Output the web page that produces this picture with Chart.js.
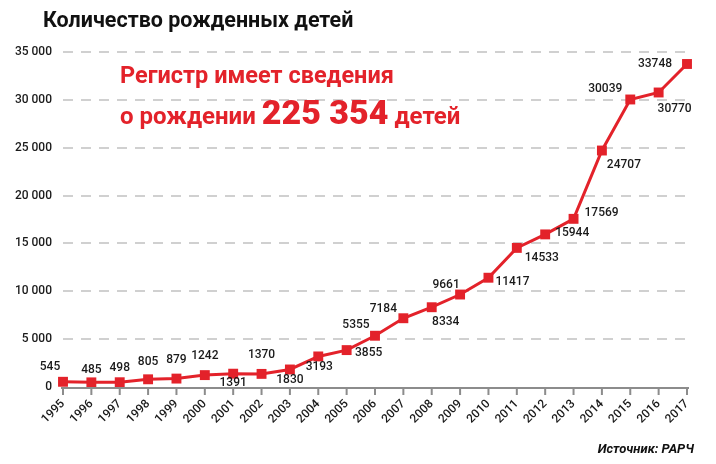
<!DOCTYPE html>
<html lang="ru">
<head>
<meta charset="utf-8">
<script src="https://cdn.jsdelivr.net/npm/chart.js@4.4.1/dist/chart.umd.min.js"></script>
<style>
  html, body { margin: 0; padding: 0; background: #fff; }
  #wrap { position: relative; width: 716px; height: 464px; font-family: Roboto, "DejaVu Sans", sans-serif; }
  #births { position: absolute; left: 0; top: 0; }
  .title { position: absolute; left: 43px; top: 7px; font-size: 21.5px; font-weight: 700; color: #111; white-space: nowrap; }
  .note { position: absolute; left: 120px; color: #e3222a; font-weight: 700; white-space: nowrap; }
  .note1 { top: 61px; font-size: 23.5px; }
  .note2 { top: 92px; font-size: 24px; }
  .note2 b { font-size: 34px; }
  .source { position: absolute; right: 22px; top: 441px; font-size: 13px; font-weight: 700; font-style: italic; color: #111; }
</style>
</head>
<body>
<div id="wrap">
  <canvas id="births" width="716" height="464"></canvas>
  <div class="title">Количество рожденных детей</div>
  <div class="note note1">Регистр имеет сведения</div>
  <div class="note note2">о рождении <b>225 354</b> детей</div>
  <div class="source">Источник: РАРЧ</div>
</div>
<script>
// данные
const years = ['1995', '1996', '1997', '1998', '1999', '2000', '2001', '2002', '2003', '2004', '2005', '2006',
               '2007', '2008', '2009', '2010', '2011', '2012', '2013', '2014', '2015', '2016', '2017'];
const births = [545, 485, 498, 805, 879, 1242, 1391, 1370, 1830, 3193, 3855, 5355,
                7184, 8334, 9661, 11417, 14533, 15944, 17569, 24707, 30039, 30770, 33748];
const yTicks = [0, 5000, 10000, 15000, 20000, 25000, 30000, 35000];

// смещения подписей относительно маркеров (dx, dy)
const labelOffsets = [
    [-13, -15], [0, -12], [0, -14], [0, -17], [0, -19], [0, -19], [0, 9], [0, -19],
    [0, 11], [1, 11], [22, 3], [-19, -11], [-20, -9], [14, 15], [-14, -10], [24, 4],
    [25, 10], [27, -1], [28, -6], [22, 14], [-25, -10], [16, 17], [-32, 0]
];

const RED = '#e3222a';
const fmt = v => String(v).replace(/\B(?=(\d{3})+(?!\d))/g, ' ');

const valueLabels = {
    id: 'valueLabels',
    afterDatasetsDraw(chart) {
        const { ctx } = chart;
        const meta = chart.getDatasetMeta(0);
        ctx.save();
        ctx.font = '500 12px Roboto, sans-serif';
        ctx.fillStyle = '#1a1a1a';
        ctx.textAlign = 'center';
        ctx.textBaseline = 'middle';
        meta.data.forEach((pt, i) => {
            const [dx, dy] = labelOffsets[i];
            ctx.fillText(births[i], pt.x + dx, pt.y + dy);
        });
        ctx.restore();
    }
};

const xTickMarks = {
    id: 'xTickMarks',
    afterDraw(chart) {
        const { ctx } = chart;
        const x = chart.scales.x;
        const yAxis = chart.chartArea.bottom;
        ctx.save();
        ctx.strokeStyle = '#8c8c8c';
        ctx.lineWidth = 2;
        ctx.beginPath();
        ctx.moveTo(x.left - 2, yAxis + 1);
        ctx.lineTo(x.right + 2, yAxis + 1);
        for (let i = 0; i < years.length; i++) {
            const px = x.getPixelForValue(i);
            ctx.moveTo(px, yAxis + 1);
            ctx.lineTo(px, yAxis + 8);
        }
        ctx.stroke();
        ctx.restore();
    }
};

new Chart(document.getElementById('births'), {
    type: 'line',
    data: {
        labels: years,
        datasets: [{
            data: births,
            borderColor: RED,
            backgroundColor: RED,
            borderWidth: 3,
            pointStyle: 'rect',
            pointRadius: 7,
            pointBorderWidth: 0,
            pointBackgroundColor: RED,
            tension: 0
        }]
    },
    options: {
        responsive: false,
        animation: false,
        layout: { padding: { top: 52, right: 29, left: 0, bottom: 0 } },
        plugins: { legend: { display: false }, tooltip: { enabled: false } },
        scales: {
            x: {
                offset: false,
                grid: { display: false, drawTicks: false },
                border: { display: false },
                afterFit: s => { s.height = 77; },
                ticks: {
                    autoSkip: false,
                    minRotation: 45,
                    maxRotation: 45,
                    padding: 10,
                    color: '#1a1a1a',
                    font: { family: 'Roboto', size: 12, weight: '500' }
                }
            },
            y: {
                min: 0,
                max: 35000,
                afterBuildTicks: s => { s.ticks = yTicks.map(v => ({ value: v })); },
                afterFit: s => { s.width = 63; },
                grid: {
                    drawTicks: false,
                    color: ctx => ctx.tick.value === 0 ? 'rgba(0,0,0,0)' : '#d0d0d0',
                    lineWidth: 2
                },
                border: { display: false, dash: [10, 8] },
                ticks: {
                    padding: 11,
                    color: '#1a1a1a',
                    font: { family: 'Roboto', size: 12, weight: '500' },
                    callback: v => fmt(v)
                }
            }
        }
    },
    plugins: [valueLabels, xTickMarks]
});
</script>
</body>
</html>
